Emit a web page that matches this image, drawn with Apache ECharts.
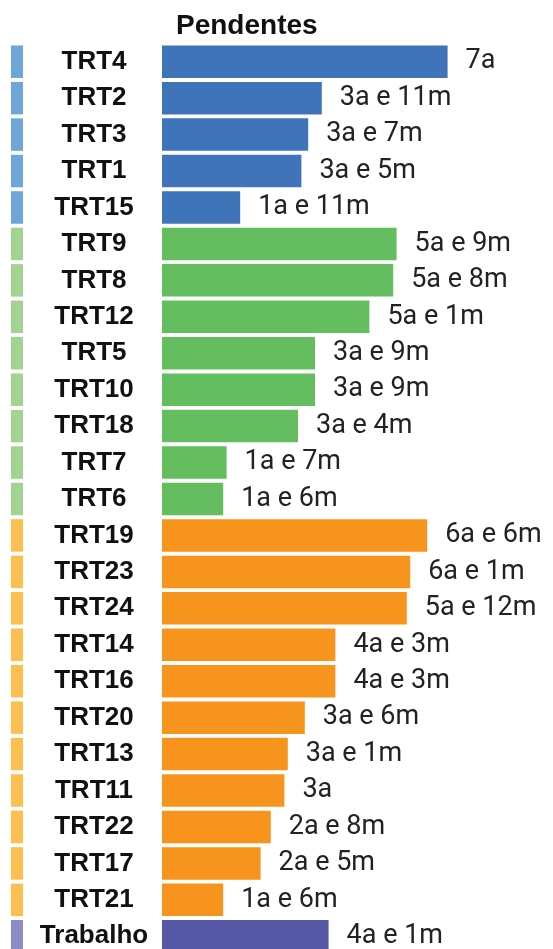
<!DOCTYPE html>
<html>
<head>
<meta charset="utf-8">
<script src="https://cdn.jsdelivr.net/npm/echarts@6/dist/echarts.min.js"></script>
<style>
html,body{margin:0;padding:0;background:#fff;}
#chart{width:553px;height:949px;}
</style>
</head>
<body>
<div id="chart"></div>
<script>
const categories = ['TRT4','TRT2','TRT3','TRT1','TRT15','TRT9','TRT8','TRT12','TRT5','TRT10','TRT18','TRT7','TRT6','TRT19','TRT23','TRT24','TRT14','TRT16','TRT20','TRT13','TRT11','TRT22','TRT17','TRT21','Trabalho'];
const months = [84,47,43,41,23,69,68,61,45,45,40,19,18,78,73,72,51,51,42,37,36,32,29,18,49];
const durationLabels = ['7a','3a e 11m','3a e 7m','3a e 5m','1a e 11m','5a e 9m','5a e 8m','5a e 1m','3a e 9m','3a e 9m','3a e 4m','1a e 7m','1a e 6m','6a e 6m','6a e 1m','5a e 12m','4a e 3m','4a e 3m','3a e 6m','3a e 1m','3a','2a e 8m','2a e 5m','1a e 6m','4a e 1m'];
const groups = ['blue','blue','blue','blue','blue','green','green','green','green','green','green','green','green','orange','orange','orange','orange','orange','orange','orange','orange','orange','orange','orange','purple'];
const titleText = 'Pendentes';

const barColors = {blue:'#3f74bb', green:'#64bd5f', orange:'#f7941d', purple:'#5759a7'};
const stripColors = {blue:'#6ea6dc', green:'#a0d490', orange:'#fdbf4f', purple:'#8c8bc6'};

const chart = echarts.init(document.getElementById('chart'));
const gridTop = 43.5, gridHeight = 911;
chart.setOption({
  animation: false,
  graphic: [{
    type: 'text', left: 176, top: 12,
    style: {text: titleText, font: 'bold 28px "Liberation Sans", Arial, sans-serif', fill: '#111'}
  }],
  grid: [
    {left: 162, right: 0, top: gridTop, height: gridHeight, containLabel: false, outerBoundsMode: 'none'},
    {left: 11, width: 12, top: gridTop, height: gridHeight, containLabel: false, outerBoundsMode: 'none'}
  ],
  xAxis: [
    {gridIndex: 0, type: 'value', min: 0, max: 115, show: false},
    {gridIndex: 1, type: 'value', min: 0, max: 1, show: false}
  ],
  yAxis: [
    {gridIndex: 0, type: 'category', data: categories, inverse: true,
     axisLine: {show: false}, axisTick: {show: false}, splitLine: {show: false},
     axisLabel: {align: 'center', margin: 68, fontSize: 26, fontWeight: 'bold',
       fontFamily: '"Liberation Sans", Arial, sans-serif', color: '#111', padding: [4,0,0,0]}},
    {gridIndex: 1, type: 'category', data: categories, inverse: true, show: false}
  ],
  series: [
    {type: 'bar', xAxisIndex: 0, yAxisIndex: 0, barWidth: 32.5,
     data: months.map((v, i) => ({value: v, itemStyle: {color: barColors[groups[i]]}})),
     label: {show: true, position: 'right', distance: 18,
       formatter: p => durationLabels[p.dataIndex],
       fontSize: 27, fontFamily: '"Roboto", sans-serif', color: '#222'}},
    {type: 'bar', xAxisIndex: 1, yAxisIndex: 1, barWidth: 32.5,
     data: groups.map(g => ({value: 1, itemStyle: {color: stripColors[g]}}))}
  ]
});
</script>
</body>
</html>
